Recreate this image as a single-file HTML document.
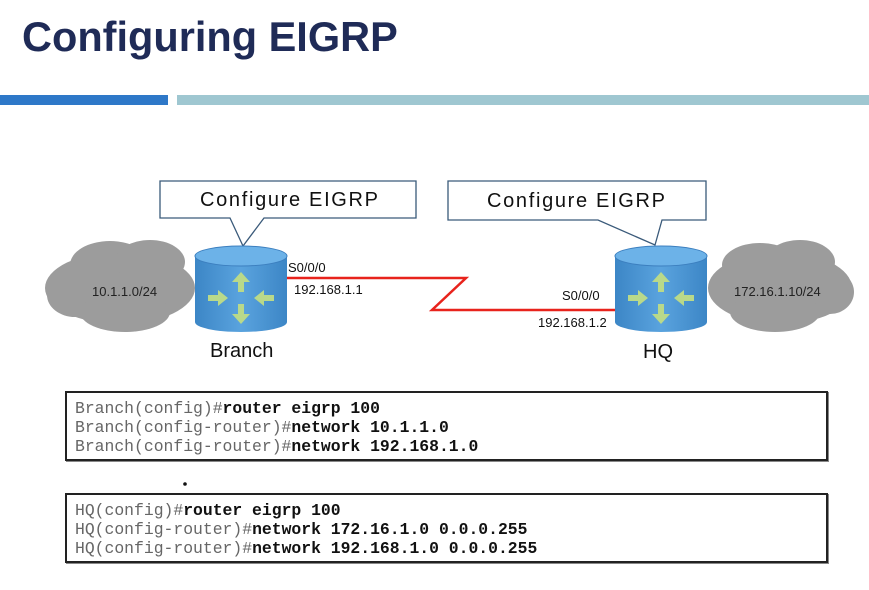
<!DOCTYPE html>
<html><head><meta charset="utf-8"><style>
body{margin:0;width:869px;height:590px;background:#fff;position:relative;overflow:hidden;font-family:"Liberation Sans",sans-serif}
.a{position:absolute}
.code{position:absolute;left:65px;width:763px;height:66px;border:2px solid #222;box-shadow:1px 1px 0 #888;font-family:"Liberation Mono",monospace;font-size:16.4px;line-height:19px;padding:6px 0 0 8px;box-sizing:border-box;color:#666;white-space:pre}
.code b{color:#111}
</style></head><body>
<div class="a" style="left:22px;top:13px;font-size:41.5px;font-weight:bold;color:#1f2b57">Configuring EIGRP</div>
<div class="a" style="left:0;top:95px;width:168px;height:10px;background:#2e78c8"></div>
<div class="a" style="left:177px;top:95px;width:692px;height:10px;background:#9fc7d1"></div>
<svg class="a" style="left:0;top:0" width="869" height="590">
<defs><linearGradient id="g" x1="0" x2="1"><stop offset="0" stop-color="#3c86c6"/><stop offset="0.5" stop-color="#5aa3de"/><stop offset="1" stop-color="#3c86c6"/></linearGradient></defs>
<g fill="#9c9c9c">
<ellipse cx="120" cy="288" rx="75" ry="36"/><ellipse cx="110" cy="265" rx="40" ry="24"/><ellipse cx="150" cy="262" rx="35" ry="22"/><ellipse cx="75" cy="295" rx="28" ry="22"/><ellipse cx="125" cy="312" rx="45" ry="20"/>
<ellipse cx="780" cy="288" rx="72" ry="36"/><ellipse cx="760" cy="265" rx="38" ry="22"/><ellipse cx="800" cy="262" rx="35" ry="22"/><ellipse cx="830" cy="292" rx="24" ry="22"/><ellipse cx="775" cy="312" rx="45" ry="20"/>
</g>
<text x="92" y="296" font-size="13" font-family="Liberation Sans" fill="#222">10.1.1.0/24</text>
<text x="734" y="296" font-size="13" font-family="Liberation Sans" fill="#222">172.16.1.10/24</text>
<path d="M160 181H416V218H264L243 246L230 218H160Z" fill="#fff" stroke="#3a5a7a" stroke-width="1.3"/>
<text x="200" y="206" font-size="20" font-family="Liberation Sans" fill="#111" textLength="178">Configure EIGRP</text>
<path d="M448 181H706V220H662L655 245L598 220H448Z" fill="#fff" stroke="#3a5a7a" stroke-width="1.3"/>
<text x="487" y="207" font-size="20" font-family="Liberation Sans" fill="#111" textLength="178">Configure EIGRP</text>
<polyline points="287,278 466,278 432,310 615,310" fill="none" stroke="#e8231c" stroke-width="2.5"/>
<g id="r1">
<path d="M195 256V322A46 10 0 0 0 287 322V256Z" fill="url(#g)"/>
<ellipse cx="241" cy="256" rx="46" ry="10" fill="#6cb2e8" stroke="#3c7fbf"/>
<g fill="#b9d98a">
<path d="M241 272l-9 10h6v10h6v-10h6z"/><path d="M241 324l-9-10h6v-10h6v10h6z"/>
<path d="M228 298l-10-8v5h-10v6h10v5z"/><path d="M254 298l10-8v5h10v6h-10v5z"/>
</g></g>
<use href="#r1" x="420"/>
<text x="288" y="272" font-size="13" font-family="Liberation Sans" fill="#111">S0/0/0</text>
<text x="294" y="294" font-size="13" font-family="Liberation Sans" fill="#111">192.168.1.1</text>
<text x="562" y="300" font-size="13" font-family="Liberation Sans" fill="#111">S0/0/0</text>
<text x="538" y="327" font-size="13" font-family="Liberation Sans" fill="#111">192.168.1.2</text>
<text x="210" y="357" font-size="20" font-family="Liberation Sans" fill="#111">Branch</text>
<text x="643" y="358" font-size="20" font-family="Liberation Sans" fill="#111">HQ</text>
<circle cx="185" cy="484" r="1.8" fill="#111"/>
</svg>
<div class="code" style="top:391px;height:70px">Branch(config)#<b>router eigrp 100</b>
Branch(config-router)#<b>network 10.1.1.0</b>
Branch(config-router)#<b>network 192.168.1.0</b></div>
<div class="code" style="top:493px;height:70px">HQ(config)#<b>router eigrp 100</b>
HQ(config-router)#<b>network 172.16.1.0 0.0.0.255</b>
HQ(config-router)#<b>network 192.168.1.0 0.0.0.255</b></div>
</body></html>
